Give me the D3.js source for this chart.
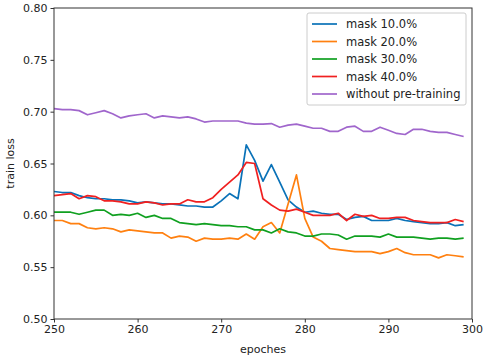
<!DOCTYPE html>
<html>
<head>
<meta charset="utf-8">
<script src="https://cdn.jsdelivr.net/npm/d3@7"></script>
<style>
  body { margin: 0; background: #fff; }
  svg { font-family: "DejaVu Sans", sans-serif; }
</style>
</head>
<body>
<svg id="chart"></svg>
<script>
// ---- data ----
const epochs = d3.range(250, 300);
const seriesNames = ["mask 10.0%", "mask 20.0%", "mask 30.0%", "mask 40.0%", "without pre-training"];
const seriesColors = ["#0a72b8", "#ff8010", "#10a020", "#f02020", "#a066cc"];

const mask10 = [0.623, 0.622, 0.622, 0.619, 0.617, 0.616, 0.616, 0.615, 0.615, 0.614,
  0.612, 0.613, 0.612, 0.611, 0.611, 0.610, 0.609, 0.609, 0.608, 0.608,
  0.614, 0.621, 0.616, 0.668, 0.653, 0.633, 0.649, 0.632, 0.615, 0.608,
  0.603, 0.604, 0.602, 0.601, 0.601, 0.596, 0.598, 0.599, 0.595, 0.595,
  0.595, 0.597, 0.595, 0.594, 0.593, 0.592, 0.592, 0.593, 0.590, 0.591];
const mask20 = [0.595, 0.595, 0.592, 0.592, 0.588, 0.587, 0.588, 0.587, 0.584, 0.586,
  0.585, 0.584, 0.583, 0.583, 0.578, 0.580, 0.579, 0.575, 0.578, 0.577,
  0.577, 0.578, 0.577, 0.582, 0.577, 0.589, 0.593, 0.583, 0.611, 0.639,
  0.597, 0.579, 0.575, 0.568, 0.567, 0.566, 0.565, 0.565, 0.565, 0.563,
  0.565, 0.568, 0.564, 0.562, 0.562, 0.562, 0.559, 0.562, 0.561, 0.560];
const mask30 = [0.603, 0.603, 0.603, 0.601, 0.603, 0.605, 0.605, 0.600, 0.601, 0.600,
  0.602, 0.598, 0.600, 0.597, 0.597, 0.593, 0.592, 0.591, 0.592, 0.591,
  0.590, 0.590, 0.589, 0.589, 0.586, 0.586, 0.583, 0.587, 0.584, 0.583,
  0.580, 0.580, 0.582, 0.582, 0.581, 0.577, 0.580, 0.580, 0.580, 0.579,
  0.582, 0.579, 0.579, 0.579, 0.578, 0.577, 0.578, 0.578, 0.577, 0.578];
const mask40 = [0.619, 0.620, 0.621, 0.616, 0.619, 0.618, 0.614, 0.614, 0.613, 0.611,
  0.611, 0.613, 0.612, 0.610, 0.611, 0.611, 0.615, 0.613, 0.613, 0.617,
  0.625, 0.632, 0.639, 0.651, 0.650, 0.616, 0.610, 0.605, 0.604, 0.606,
  0.603, 0.600, 0.600, 0.600, 0.602, 0.595, 0.601, 0.599, 0.600, 0.597,
  0.597, 0.598, 0.598, 0.595, 0.594, 0.593, 0.593, 0.593, 0.596, 0.594];
const noPretrain = [0.703, 0.702, 0.702, 0.701, 0.697, 0.699, 0.701, 0.698, 0.694, 0.696,
  0.697, 0.698, 0.694, 0.696, 0.695, 0.694, 0.695, 0.693, 0.690, 0.691,
  0.691, 0.691, 0.691, 0.689, 0.688, 0.688, 0.6885, 0.685, 0.687, 0.688,
  0.686, 0.684, 0.684, 0.681, 0.681, 0.685, 0.686, 0.681, 0.681, 0.685,
  0.682, 0.679, 0.678, 0.683, 0.683, 0.681, 0.680, 0.680, 0.678, 0.676];

const xTicks = [250, 260, 270, 280, 290, 300];
const yTicks = [0.50, 0.55, 0.60, 0.65, 0.70, 0.75, 0.80];

const allSeries = [mask10, mask20, mask30, mask40, noPretrain];

// ---- layout ----
const width = 484, height = 358;
const margin = { top: 8, right: 12, bottom: 39, left: 54 };

const svg = d3.select("#chart")
  .attr("width", width)
  .attr("height", height);

const x = d3.scaleLinear().domain([250, 300]).range([margin.left, width - margin.right]);
const y = d3.scaleLinear().domain([0.50, 0.80]).range([height - margin.bottom, margin.top]);

// axes
const xAxis = svg.append("g")
  .attr("transform", `translate(0,${height - margin.bottom})`)
  .call(d3.axisBottom(x).tickValues(xTicks).tickFormat(d3.format("d")).tickSizeOuter(0).tickSize(3.5).tickPadding(3));
const yAxis = svg.append("g")
  .attr("transform", `translate(${margin.left},0)`)
  .call(d3.axisLeft(y).tickValues(yTicks).tickFormat(d3.format(".2f")).tickSizeOuter(0).tickSize(3.5).tickPadding(3));

[xAxis, yAxis].forEach(g => {
  g.selectAll("text").attr("font-size", "11px").attr("fill", "#222").attr("font-family", "DejaVu Sans");
  g.selectAll("line").attr("stroke", "#333");
  g.select(".domain").remove();
});

// lines
const line = d3.line()
  .x((d, i) => x(epochs[i]))
  .y(d => y(d));

svg.append("g")
  .selectAll("path")
  .data(allSeries)
  .join("path")
  .attr("d", line)
  .attr("fill", "none")
  .attr("stroke", (d, i) => seriesColors[i])
  .attr("stroke-width", 1.7)
  .attr("stroke-linejoin", "round");

// frame
svg.append("rect")
  .attr("x", margin.left)
  .attr("y", margin.top)
  .attr("width", width - margin.left - margin.right)
  .attr("height", height - margin.top - margin.bottom)
  .attr("fill", "none")
  .attr("stroke", "#333")
  .attr("stroke-width", 1);

// axis titles
svg.append("text")
  .attr("x", (margin.left + width - margin.right) / 2)
  .attr("y", 353)
  .attr("text-anchor", "middle")
  .attr("font-size", "11px")
  .attr("fill", "#222")
  .text("epoches");

svg.append("text")
  .attr("transform", `translate(14,${(margin.top + height - margin.bottom) / 2}) rotate(-90)`)
  .attr("text-anchor", "middle")
  .attr("font-size", "11px")
  .attr("fill", "#222")
  .text("train loss");

// legend
const legend = svg.append("g").attr("transform", "translate(307,13)");
legend.append("rect")
  .attr("width", 159)
  .attr("height", 92)
  .attr("rx", 2)
  .attr("fill", "#fff")
  .attr("fill-opacity", 0.8)
  .attr("stroke", "#ccc");

const items = legend.selectAll(".item")
  .data(seriesNames)
  .join("g")
  .attr("transform", (d, i) => `translate(0,${11 + i * 17.5})`);

items.append("line")
  .attr("x1", 5).attr("x2", 30)
  .attr("stroke", (d, i) => seriesColors[i])
  .attr("stroke-width", 1.7);

items.append("text")
  .attr("x", 39)
  .attr("dy", "0.35em")
  .attr("font-size", "11.5px")
  .attr("fill", "#222")
  .text(d => d);
</script>
</body>
</html>
